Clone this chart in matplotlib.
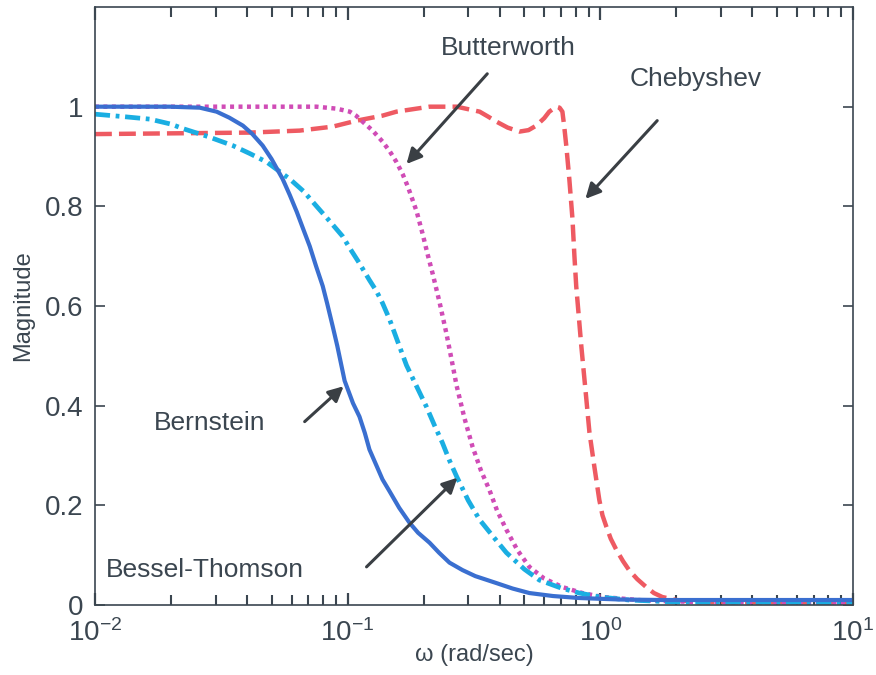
import numpy as np
import matplotlib.pyplot as plt

plt.rcParams['font.family'] = ['Liberation Sans', 'DejaVu Sans']
plt.rcParams['mathtext.fontset'] = 'custom'
plt.rcParams['mathtext.rm'] = 'Liberation Sans'
plt.rcParams['mathtext.it'] = 'Liberation Sans:italic'

# magnitude responses of the four filters
w_bern = [0.01, 0.0198, 0.026, 0.0303, 0.034, 0.0385, 0.042, 0.0461, 0.05, 0.0553,
          0.059, 0.0629, 0.067, 0.0708, 0.075, 0.0797, 0.083, 0.0873, 0.091, 0.0973,
          0.105, 0.1114, 0.117, 0.122, 0.13, 0.1374, 0.1466, 0.16, 0.1758, 0.19,
          0.211, 0.23, 0.253, 0.285, 0.32, 0.388, 0.45, 0.524, 0.65, 0.826,
          1.2, 1.76, 10.0]
m_bern = [1.0, 1.0, 0.998, 0.99, 0.978, 0.962, 0.945, 0.922, 0.895, 0.855,
          0.823, 0.789, 0.752, 0.72, 0.68, 0.64, 0.605, 0.559, 0.52, 0.45,
          0.405, 0.378, 0.345, 0.312, 0.28, 0.252, 0.228, 0.195, 0.165, 0.145,
          0.125, 0.105, 0.085, 0.07, 0.058, 0.044, 0.033, 0.024, 0.018, 0.014,
          0.011, 0.01, 0.01]

w_bessel = [0.01, 0.013, 0.0165, 0.02, 0.0223, 0.028, 0.0351, 0.041, 0.0478, 0.059,
            0.067, 0.0754, 0.085, 0.0955, 0.102, 0.11, 0.1146, 0.122, 0.13, 0.1374,
            0.1466, 0.158, 0.171, 0.187, 0.205, 0.22, 0.237, 0.253, 0.27, 0.3,
            0.333, 0.38, 0.425, 0.5, 0.574, 0.7, 0.826, 1.0, 1.3, 2.0, 10.0]
m_bessel = [0.985, 0.98, 0.975, 0.965, 0.956, 0.94, 0.922, 0.906, 0.889, 0.855,
            0.83, 0.80, 0.77, 0.74, 0.716, 0.69, 0.675, 0.652, 0.63, 0.606,
            0.573, 0.528, 0.481, 0.44, 0.398, 0.362, 0.326, 0.29, 0.258, 0.21,
            0.171, 0.135, 0.105, 0.072, 0.05, 0.034, 0.024, 0.016, 0.01, 0.006, 0.005]

w_butter = [0.01, 0.0753, 0.0905, 0.102, 0.108, 0.1146, 0.1256, 0.1374, 0.147, 0.156,
            0.165, 0.173, 0.181, 0.1875, 0.198, 0.207, 0.217, 0.231, 0.246, 0.258,
            0.27, 0.29, 0.312, 0.337, 0.364, 0.39, 0.425, 0.47, 0.524, 0.6,
            0.708, 0.85, 1.02, 1.5, 2.46, 10.0]
m_butter = [1.0, 1.0, 0.996, 0.99, 0.982, 0.97, 0.952, 0.93, 0.91, 0.889,
            0.865, 0.84, 0.812, 0.79, 0.745, 0.705, 0.665, 0.608, 0.545, 0.492,
            0.44, 0.375, 0.318, 0.27, 0.231, 0.19, 0.151, 0.11, 0.0765, 0.053,
            0.036, 0.024, 0.016, 0.009, 0.006, 0.005]

w_cheby = [0.01, 0.041, 0.0646, 0.0873, 0.1086, 0.1374, 0.156, 0.211, 0.27, 0.333,
           0.36, 0.388, 0.43, 0.479, 0.52, 0.558, 0.6, 0.628, 0.67, 0.69,
           0.708, 0.72, 0.734, 0.754, 0.776, 0.79, 0.803, 0.841, 0.881, 0.906,
           0.947, 0.991, 1.02, 1.057, 1.1, 1.157, 1.23, 1.30, 1.4, 1.52,
           1.63, 1.76, 2.0, 2.46, 10.0]
m_cheby = [0.945, 0.948, 0.952, 0.96, 0.972, 0.982, 0.99, 1.0, 1.0, 0.99,
           0.98, 0.97, 0.958, 0.95, 0.953, 0.962, 0.977, 0.99, 1.0, 0.998,
           0.99, 0.96, 0.92, 0.855, 0.775, 0.70, 0.64, 0.52, 0.412, 0.346,
           0.278, 0.211, 0.18, 0.157, 0.133, 0.111, 0.088, 0.07, 0.052, 0.036,
           0.024, 0.016, 0.01, 0.006, 0.005]

# label text centre, arrow tail, arrow head (data coordinates)
labels = ['Butterworth', 'Chebyshev', 'Bernstein', 'Bessel-Thomson']
label_pos = [(0.432, 1.117), (2.39, 1.056), (0.0285, 0.366), (0.0272, 0.070)]
arrow_tail = [(0.357, 1.066), (1.68, 0.972), (0.0676, 0.368), (0.1188, 0.0765)]
arrow_head = [(0.171, 0.885), (0.873, 0.815), (0.0964, 0.439), (0.272, 0.2555)]

blue = '#3a6fd0'
cyan = '#1aaee2'
magenta = '#d04cb6'
red = '#ee5a62'
ink = '#3b4650'

fig = plt.figure(figsize=(8.76, 6.75), dpi=100)
ax = fig.add_axes([0.1084, 0.1037, 0.8653, 0.8859])

ax.plot(w_cheby, m_cheby, color=red, lw=3.2, linestyle=(0, (3.8, 1.6)))
ax.plot(w_butter, m_butter, color=magenta, lw=3.2, linestyle=(0, (0.9, 1.0)))
ax.plot(w_bessel, m_bessel, color=cyan, lw=3.4, linestyle=(0, (3.2, 1.2, 0.8, 1.2)))
ax.plot(w_bern, m_bern, color=blue, lw=3.0)

ax.set_xscale('log')
ax.set_xlim(1e-2, 1e1)
ax.set_ylim(0, 1.2)
ax.set_yticks([0, 0.2, 0.4, 0.6, 0.8, 1.0])
ax.set_yticklabels(['0', '0.2', '0.4', '0.6', '0.8', '1'])
ax.set_xticks([1e-2, 1e-1, 1e0, 1e1])
ax.set_xticklabels([r'$10^{-2}$', r'$10^{-1}$', r'$10^{0}$', r'$10^{1}$'])
decades = [1e-2, 1e-1, 1e0]
ax.set_xticks([d * k for d in decades for k in range(2, 10)], minor=True)
ax.set_xticklabels([], minor=True)

ax.tick_params(axis='both', which='both', direction='in', colors=ink,
               labelsize=20, labelcolor=ink)
ax.tick_params(axis='x', which='both', bottom=True, top=True)
ax.tick_params(axis='y', which='both', left=True, right=True)
ax.tick_params(axis='both', which='major', length=7, width=1.2)
ax.tick_params(axis='x', which='major', length=9, width=1.6)
ax.tick_params(axis='x', which='minor', length=7, width=1.5)
ax.tick_params(axis='y', which='major', pad=8)
ax.tick_params(axis='x', which='major', pad=10)
for s in ax.spines.values():
    s.set_color(ink)
    s.set_linewidth(1.2)

ax.set_xlabel('ω (rad/sec)', fontsize=17, color=ink, labelpad=-2)
ax.set_ylabel('Magnitude', fontsize=17, color=ink, labelpad=8)

arrow = dict(arrowstyle='-|>,head_length=0.9,head_width=0.45', color='#3a3f44', lw=2.2,
             shrinkA=0, shrinkB=0)
for name, pos, tail, head in zip(labels, label_pos, arrow_tail, arrow_head):
    ax.text(pos[0], pos[1], name, fontsize=19, color=ink, ha='center', va='center')
    ax.annotate('', xy=head, xytext=tail, arrowprops=arrow)

fig.savefig('out.png', dpi=100)
